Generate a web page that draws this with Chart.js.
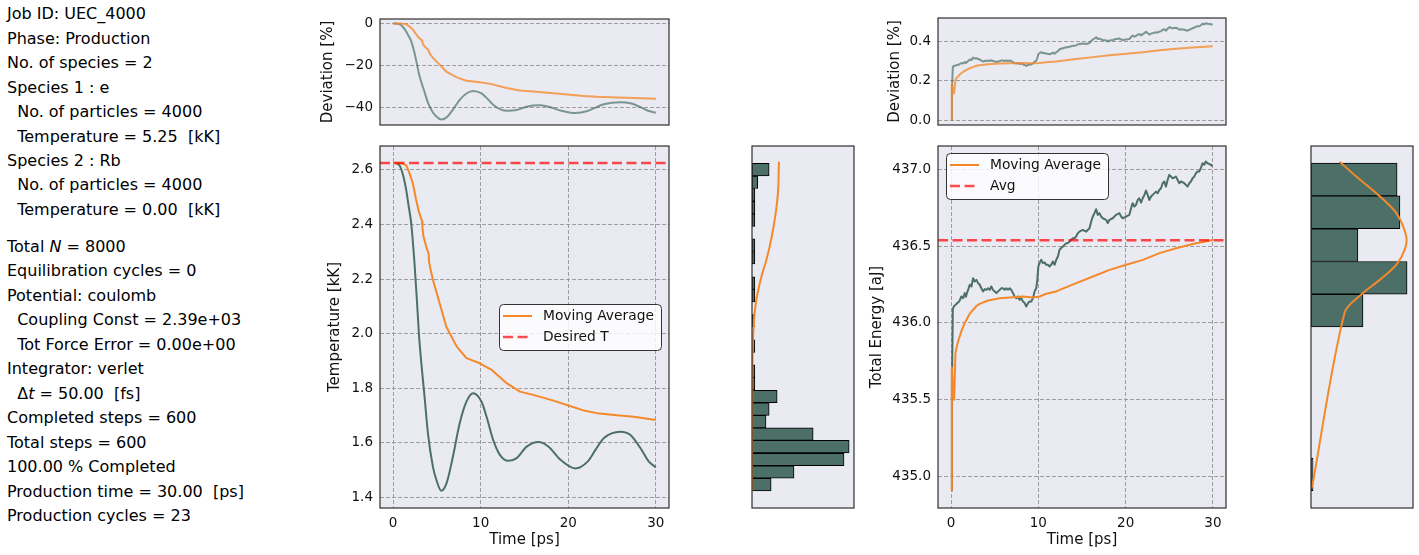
<!DOCTYPE html>
<html>
<head>
<meta charset="utf-8">
<script src="https://cdn.jsdelivr.net/npm/chart.js@4.4.1/dist/chart.umd.min.js"></script>
<style>
  body { margin: 0; background: #fff; }
  #fig { position: relative; width: 1419px; height: 555px; overflow: hidden; font-family: 'DejaVu Sans', sans-serif; color: #000; }
  #fig canvas { position: absolute; }
  .info { position: absolute; left: 7px; font-size: 16px; line-height: 24.45px; white-space: pre; }
</style>
</head>
<body>
<div id="fig">
<div class="info" style="top:2.3px">Job ID: UEC_4000
Phase: Production
No. of species = 2
Species 1 : e
  No. of particles = 4000
  Temperature = 5.25  [kK]
Species 2 : Rb
  No. of particles = 4000
  Temperature = 0.00  [kK]</div>
<div class="info" style="top:235px">Total <i>N</i> = 8000
Equilibration cycles = 0
Potential: coulomb
  Coupling Const = 2.39e+03
  Tot Force Error = 0.00e+00
Integrator: verlet
  Δ<i>t</i> = 50.00  [fs]
Completed steps = 600
Total steps = 600
100.00 % Completed
Production time = 30.00  [ps]
Production cycles = 23</div>
<canvas id="devT" width="366" height="135" style="left:314px;top:0px"></canvas>
<canvas id="temp" width="360" height="420" style="left:320px;top:136px"></canvas>
<canvas id="histT" width="122" height="382" style="left:742px;top:136px"></canvas>
<canvas id="devE" width="356" height="135" style="left:880px;top:0px"></canvas>
<canvas id="energy" width="374" height="420" style="left:862px;top:136px"></canvas>
<canvas id="histE" width="118" height="382" style="left:1301px;top:136px"></canvas>
</div>
<script>
// tick labels
var xTicks = [0, 10, 20, 30];
var tempTicks = [1.4, 1.6, 1.8, 2.0, 2.2, 2.4, 2.6];
var devTempTicks = [-40, -20, 0];
var energyTicks = [435.0, 435.5, 436.0, 436.5, 437.0];
var devEnergyTicks = [0, 0.2, 0.4];

// temperature [kK] vs time [ps]
var tempTime = [0, 0.7, 1.1, 1.49, 1.75, 2.06, 2.44, 2.71, 2.96, 3.25,
  3.59, 3.97, 4.54, 4.97, 5.5, 6.1, 6.83, 7.6, 8.37, 9.13,
  10.09, 10.67, 11.42, 12.19, 13.15, 14.1, 15.25, 16.6, 17.75, 19.1,
  20.8, 22.2, 23.1, 24.05, 25.95, 27.1, 28.25, 29.2, 30];
var tempValues = [2.627, 2.618, 2.585, 2.527, 2.472, 2.405, 2.258, 2.123, 1.991, 1.881,
  1.768, 1.635, 1.512, 1.46, 1.423, 1.451, 1.549, 1.671, 1.750, 1.781,
  1.750, 1.695, 1.610, 1.555, 1.533, 1.543, 1.585, 1.602, 1.585, 1.537,
  1.505, 1.530, 1.573, 1.616, 1.640, 1.628, 1.579, 1.530, 1.509];
var tempAvgTime = [0, 0.8, 1.49, 1.87, 2.25, 2.63, 2.94, 3.3, 3.34, 3.47,
  3.78, 4.06, 4.1, 4.24, 4.54, 5.31, 6.07, 7.27, 8.37, 9.9,
  11.24, 12.96, 14.48, 16.0, 18.3, 19.84, 21.74, 23.28, 25.57, 27.48, 30];
var tempAvgValues = [2.627, 2.626, 2.618, 2.588, 2.551, 2.49, 2.447, 2.413, 2.39, 2.355,
  2.319, 2.292, 2.264, 2.24, 2.197, 2.111, 2.025, 1.952, 1.910, 1.891,
  1.867, 1.818, 1.787, 1.775, 1.754, 1.738, 1.718, 1.708, 1.700, 1.695, 1.683];
var desiredT = 2.626;

// temperature histogram (bin centres, counts) and density curve
var tempBins = [1.446, 1.492, 1.538, 1.585, 1.631, 1.677, 1.723, 1.769, 1.816, 1.862,
  1.908, 1.954, 2.000, 2.047, 2.093, 2.139, 2.185, 2.231, 2.278, 2.324,
  2.370, 2.416, 2.462, 2.509, 2.555, 2.601];
var tempCounts = [6.7, 14.7, 32.2, 34, 21.4, 4.9, 6, 8.8, 1, 1,
  0, 1, 0, 0.8, 0, 1, 1, 0, 1, 1,
  0, 1, 1, 1, 2, 6];
var tempPdfAt = [2.630, 2.588, 2.539, 2.49, 2.441, 2.38, 2.319, 2.27, 2.221, 2.172,
  2.124, 2.075, 2.026, 1.977, 1.928, 1.879, 1.75, 1.6, 1.423];
var tempPdf = [9.45, 9.33, 9.22, 8.87, 8.28, 7.35, 6.18, 5.02, 3.62, 2.45,
  1.52, 0.93, 0.58, 0.35, 0.23, 0.12, 0.05, 0.02, 0.01];

// total energy [aJ] vs time [ps]
var energyTime = [0, 0.1, 0.2, 0.31, 0.61, 0.92, 1.18, 1.38, 1.57, 1.7,
  1.85, 1.95, 2.14, 2.33, 2.52, 2.71, 2.9, 3.09, 3.28, 3.47,
  3.66, 3.85, 4.04, 4.23, 4.42, 4.61, 4.8, 4.99, 5.19, 5.38,
  5.57, 5.76, 5.95, 6.14, 6.33, 6.52, 6.71, 6.9, 7.09, 7.28,
  7.47, 7.66, 7.85, 8.04, 8.23, 8.43, 8.62, 8.81, 9.0, 9.19,
  9.38, 9.57, 9.76, 9.88, 10.0, 10.14, 10.33, 10.52, 10.71, 10.9,
  11.09, 11.28, 11.47, 11.66, 11.86, 12.05, 12.24, 12.43, 12.62, 12.81,
  13.0, 13.19, 13.38, 13.57, 13.76, 13.95, 14.14, 14.33, 14.52, 14.71,
  15.09, 15.48, 15.86, 16.05, 16.24, 16.43, 16.62, 16.81, 17.0, 17.19,
  17.38, 17.76, 17.95, 18.14, 18.52, 18.9, 19.29, 19.48, 19.67, 20.05,
  20.43, 20.62, 20.81, 21.0, 21.19, 21.38, 21.57, 21.77, 21.96, 22.15,
  22.33, 22.53, 22.71, 22.91, 23.1, 23.48, 23.67, 23.86, 24.05, 24.24,
  24.43, 24.62, 24.81, 25.0, 25.2, 25.39, 25.77, 25.96, 26.15, 26.34,
  26.72, 27.1, 27.29, 27.48, 27.67, 27.86, 28.05, 28.24, 28.43, 28.62,
  28.81, 29.0, 29.19, 29.38, 29.57, 29.77, 29.96];
var energyValues = [434.91, 435.6, 436.09, 436.107, 436.124, 436.139, 436.172, 436.161, 436.194, 436.17,
  436.2, 436.215, 436.248, 436.237, 436.291, 436.27, 436.28, 436.259, 436.248, 436.226,
  436.205, 436.22, 436.215, 436.226, 436.215, 436.237, 436.215, 436.205, 436.194, 436.205,
  436.215, 436.226, 436.226, 436.215, 436.226, 436.215, 436.226, 436.215, 436.194, 436.172,
  436.161, 436.172, 436.15, 436.161, 436.139, 436.129, 436.107, 436.129, 436.139, 436.139,
  436.161, 436.205, 436.226, 436.28, 436.37, 436.389, 436.411, 436.389, 436.394, 436.378,
  436.378, 436.367, 436.378, 436.4, 436.378, 436.411, 436.432, 436.476, 436.487, 436.497,
  436.508, 436.519, 436.519, 436.53, 436.541, 436.551, 436.551, 436.562, 436.584, 436.594,
  436.605, 436.594, 436.616, 436.659, 436.692, 436.714, 436.74, 436.703, 436.714, 436.692,
  436.681, 436.671, 436.649, 436.671, 436.681, 436.703, 436.714, 436.692, 436.681, 436.692,
  436.703, 436.746, 436.779, 436.757, 436.768, 436.8, 436.811, 436.783, 436.811, 436.833,
  436.861, 436.833, 436.8, 436.822, 436.833, 436.854, 436.844, 436.865, 436.876, 436.909,
  436.92, 436.887, 436.93, 436.963, 436.952, 436.941, 436.952, 436.93, 436.909, 436.92,
  436.909, 436.887, 436.909, 436.92, 436.941, 436.952, 436.974, 436.985, 436.985, 437.007,
  437.039, 437.028, 437.05, 437.039, 437.035, 437.028, 437.02];
var energyAvgTime = [0, 0.08, 0.35, 0.5, 0.7, 0.92, 1.2, 1.57, 2.14, 2.9,
  3.28, 4.24, 5.57, 6.72, 8.23, 9.38, 10.14, 10.9, 12.05, 12.44,
  14.35, 16.25, 18.16, 20.07, 21.97, 23.88, 25.79, 27.69, 29.98];
var energyAvgValues = [434.91, 435.71, 435.5, 435.8, 435.86, 435.9, 435.95, 436.0, 436.06, 436.11,
  436.124, 436.146, 436.161, 436.165, 436.172, 436.166, 436.172, 436.19, 436.205, 436.215,
  436.259, 436.302, 436.345, 436.378, 436.41, 436.454, 436.486, 436.514, 436.54];
var energyMean = 436.538;

// energy histogram and density curve
var energyBins = [435.015, 435.228, 435.441, 435.654, 435.867, 436.080, 436.293, 436.506, 436.720, 436.933];
var energyCounts = [1, 0, 0, 0, 0, 25.5, 47.1, 23.0, 43.6, 42.2];
var energyPdfAt = [437.049, 436.952, 436.844, 436.714, 436.562, 436.475, 436.378, 436.28, 436.194, 436.068, 434.93];
var energyPdf = [14.05, 22.2, 32.0, 41.8, 46.7, 45.9, 41.8, 33.7, 25.5, 16.5, 0.5];

Chart.defaults.font.family = "'DejaVu Sans', sans-serif";
Chart.defaults.color = '#111';
Chart.defaults.plugins.legend.display = false;
Chart.defaults.plugins.tooltip.enabled = false;

var TEAL = '#4c7067', ORANGE = '#f5892a', RED = 'rgba(255,0,0,0.7)';
var TEAL_DEV = 'rgba(76,112,103,0.7)', ORANGE_DEV = 'rgba(245,137,42,0.78)';
var GRID = '#9e9e9e';
var XMIN = -1.5, XMAX = 31.5;

function pts(xs, ys) { return xs.map(function (x, i) { return {x: x, y: ys[i]}; }); }
function pct(ys, ref) { return ys.map(function (v) { return 100 * (v - ref) / ref; }); }
function minus(v) { return v < 0 ? '\u2212' + Math.abs(v) : String(v); }

// axes background + frame
var panel = {
  id: 'panel',
  beforeDraw: function (c) {
    var a = c.chartArea, ctx = c.ctx;
    ctx.save(); ctx.fillStyle = '#eaeaf2'; ctx.fillRect(a.left, a.top, a.width, a.height); ctx.restore();
  },
  afterDraw: function (c) {
    var a = c.chartArea, ctx = c.ctx;
    ctx.save(); ctx.strokeStyle = '#2d2d2d'; ctx.lineWidth = 1.2;
    ctx.strokeRect(a.left, a.top, a.width, a.height); ctx.restore();
  }
};

// matplotlib-like legend box inside the axes
var boxLegend = {
  id: 'boxLegend',
  afterDraw: function (c, args, o) {
    var ctx = c.ctx, a = c.chartArea;
    var x0 = a.left + o.x, y0 = a.top + o.y;
    ctx.save();
    ctx.beginPath(); ctx.roundRect(x0 + 0.5, y0 + 0.5, o.w, o.h, 4);
    ctx.fillStyle = 'rgba(255,255,255,0.8)'; ctx.fill();
    ctx.strokeStyle = '#333'; ctx.lineWidth = 1; ctx.stroke();
    var row = 0;
    c.data.datasets.forEach(function (ds) {
      if (!ds.label) return;
      var cy = y0 + 12 + row * 21;
      ctx.strokeStyle = ds.borderColor; ctx.lineWidth = ds.borderWidth;
      ctx.setLineDash(ds.borderDash || []);
      ctx.beginPath(); ctx.moveTo(x0 + 4, cy); ctx.lineTo(x0 + 33, cy); ctx.stroke();
      ctx.setLineDash([]);
      ctx.fillStyle = '#111'; ctx.font = "13.8px 'DejaVu Sans'"; ctx.textBaseline = 'middle';
      ctx.fillText(ds.label, x0 + 44, cy);
      row++;
    });
    ctx.restore();
  }
};

function timeAxis() {
  return {
    type: 'linear', min: XMIN, max: XMAX,
    afterBuildTicks: function (s) { s.ticks = xTicks.map(function (v) { return {value: v}; }); },
    afterFit: function (s) { s.height = 48; s.paddingLeft = 0; s.paddingRight = 0; },
    grid: {color: GRID, lineWidth: 1, drawTicks: false},
    border: {display: false, dash: [4, 2]},
    ticks: {padding: 7, autoSkip: false, maxRotation: 0, font: {size: 13.5}, color: '#111',
      callback: function (v) { return String(v); }},
    title: {display: true, text: 'Time [ps]', font: {size: 15}, color: '#111', padding: {top: 0, bottom: 7}}
  };
}
function hiddenTime() { return {type: 'linear', min: XMIN, max: XMAX, display: false}; }

function valueAxis(min, max, ticks, fmt, title, width, titlePad) {
  return {
    type: 'linear', min: min, max: max,
    afterBuildTicks: function (s) { s.ticks = ticks.map(function (v) { return {value: v}; }); },
    afterFit: function (s) { s.width = width; s.paddingTop = 0; s.paddingBottom = 0; },
    grid: {color: GRID, lineWidth: 1, drawTicks: false},
    border: {display: false, dash: [4, 2]},
    ticks: {padding: 7, autoSkip: false, font: {size: 13.5}, color: '#111', callback: fmt},
    title: {display: true, text: title, font: {size: 15}, color: '#111', padding: {top: titlePad, bottom: 0}}
  };
}

function lineDs(xs, ys, color, extra) {
  var d = {data: pts(xs, ys), borderColor: color, borderWidth: 2, pointRadius: 0, borderJoinStyle: 'round'};
  return Object.assign(d, extra || {});
}

var TMIN = 1.36, TMAX = 2.688, EMIN = 434.796, EMAX = 437.151;

// --- temperature deviation
new Chart(document.getElementById('devT'), {
  type: 'line',
  data: {datasets: [
    lineDs(tempAvgTime, pct(tempAvgValues, tempValues[0]), ORANGE_DEV, {order: 0}),
    lineDs(tempTime, pct(tempValues, tempValues[0]), TEAL_DEV, {order: 1, cubicInterpolationMode: 'monotone'})
  ]},
  options: {
    responsive: false, animation: false,
    layout: {padding: {top: 19, right: 11, bottom: 10, left: 0}},
    scales: {
      x: hiddenTime(),
      y: valueAxis(-48.4, 2.1, devTempTicks, minus, 'Deviation [%]', 66, 5)
    }
  },
  plugins: [panel]
});

// --- temperature
new Chart(document.getElementById('temp'), {
  type: 'line',
  data: {datasets: [
    lineDs(tempAvgTime, tempAvgValues, ORANGE, {label: 'Moving Average', order: 1}),
    lineDs([XMIN, XMAX], [desiredT, desiredT], RED, {label: 'Desired T', borderWidth: 2.5, borderDash: [10, 4.5], order: 0}),
    lineDs(tempTime, tempValues, TEAL, {order: 2, cubicInterpolationMode: 'monotone'})
  ]},
  options: {
    responsive: false, animation: false,
    layout: {padding: {top: 10, right: 11, bottom: 0, left: 0}},
    scales: {
      x: timeAxis(),
      y: valueAxis(TMIN, TMAX, tempTicks, function (v) { return v.toFixed(1); }, 'Temperature [kK]', 60, 6)
    },
    plugins: {boxLegend: {x: 119, y: 158, w: 162, h: 46}}
  },
  plugins: [panel, boxLegend]
});

// --- histograms
function histChart(id, bins, counts, pdfAt, pdf, vmin, vmax, cmax, padRight) {
  return new Chart(document.getElementById(id), {
    type: 'bar',
    data: {datasets: [
      {type: 'line', data: pts(pdf, pdfAt), borderColor: ORANGE, borderWidth: 2, pointRadius: 0, tension: 0.3, order: 0},
      {data: pts(counts, bins), backgroundColor: TEAL, borderColor: '#000', borderWidth: 1,
        borderSkipped: false, categoryPercentage: 1, barPercentage: 1, order: 1}
    ]},
    options: {
      responsive: false, animation: false, indexAxis: 'y',
      layout: {padding: {top: 10, right: padRight, bottom: 10, left: 10}},
      scales: {
        x: {type: 'linear', min: 0, max: cmax, display: false},
        y: {type: 'linear', min: vmin, max: vmax, display: false, offset: false, grid: {offset: false},
          afterBuildTicks: function (s) { s.ticks = [{value: s.min}]; }}
      }
    },
    plugins: [panel]
  });
}
histChart('histT', tempBins, tempCounts, tempPdfAt, tempPdf, TMIN, TMAX, 35.7, 10);

// --- energy deviation
new Chart(document.getElementById('devE'), {
  type: 'line',
  data: {datasets: [
    lineDs(energyAvgTime, pct(energyAvgValues, energyValues[0]), ORANGE_DEV, {order: 0}),
    lineDs(energyTime, pct(energyValues, energyValues[0]), TEAL_DEV, {order: 1})
  ]},
  options: {
    responsive: false, animation: false,
    layout: {padding: {top: 18, right: 10, bottom: 10, left: 0}},
    scales: {
      x: hiddenTime(),
      y: valueAxis(-0.025, 0.519, devEnergyTicks, function (v) { return v.toFixed(1); }, 'Deviation [%]', 58, 6)
    }
  },
  plugins: [panel]
});

// --- total energy
new Chart(document.getElementById('energy'), {
  type: 'line',
  data: {datasets: [
    lineDs(energyAvgTime, energyAvgValues, ORANGE, {label: 'Moving Average', order: 1}),
    lineDs([XMIN, XMAX], [energyMean, energyMean], RED, {label: 'Avg', borderWidth: 2.5, borderDash: [10, 4.5], order: 0}),
    lineDs(energyTime, energyValues, TEAL, {order: 2})
  ]},
  options: {
    responsive: false, animation: false,
    layout: {padding: {top: 10, right: 10, bottom: 0, left: 0}},
    scales: {
      x: timeAxis(),
      y: valueAxis(EMIN, EMAX, energyTicks, function (v) { return v.toFixed(1); }, 'Total Energy [aJ]', 76, 6)
    },
    plugins: {boxLegend: {x: 8, y: 7, w: 162, h: 46}}
  },
  plugins: [panel, boxLegend]
});

histChart('histE', energyBins, energyCounts, energyPdfAt, energyPdf, EMIN, EMAX, 50, 6);
</script>
</body>
</html>
